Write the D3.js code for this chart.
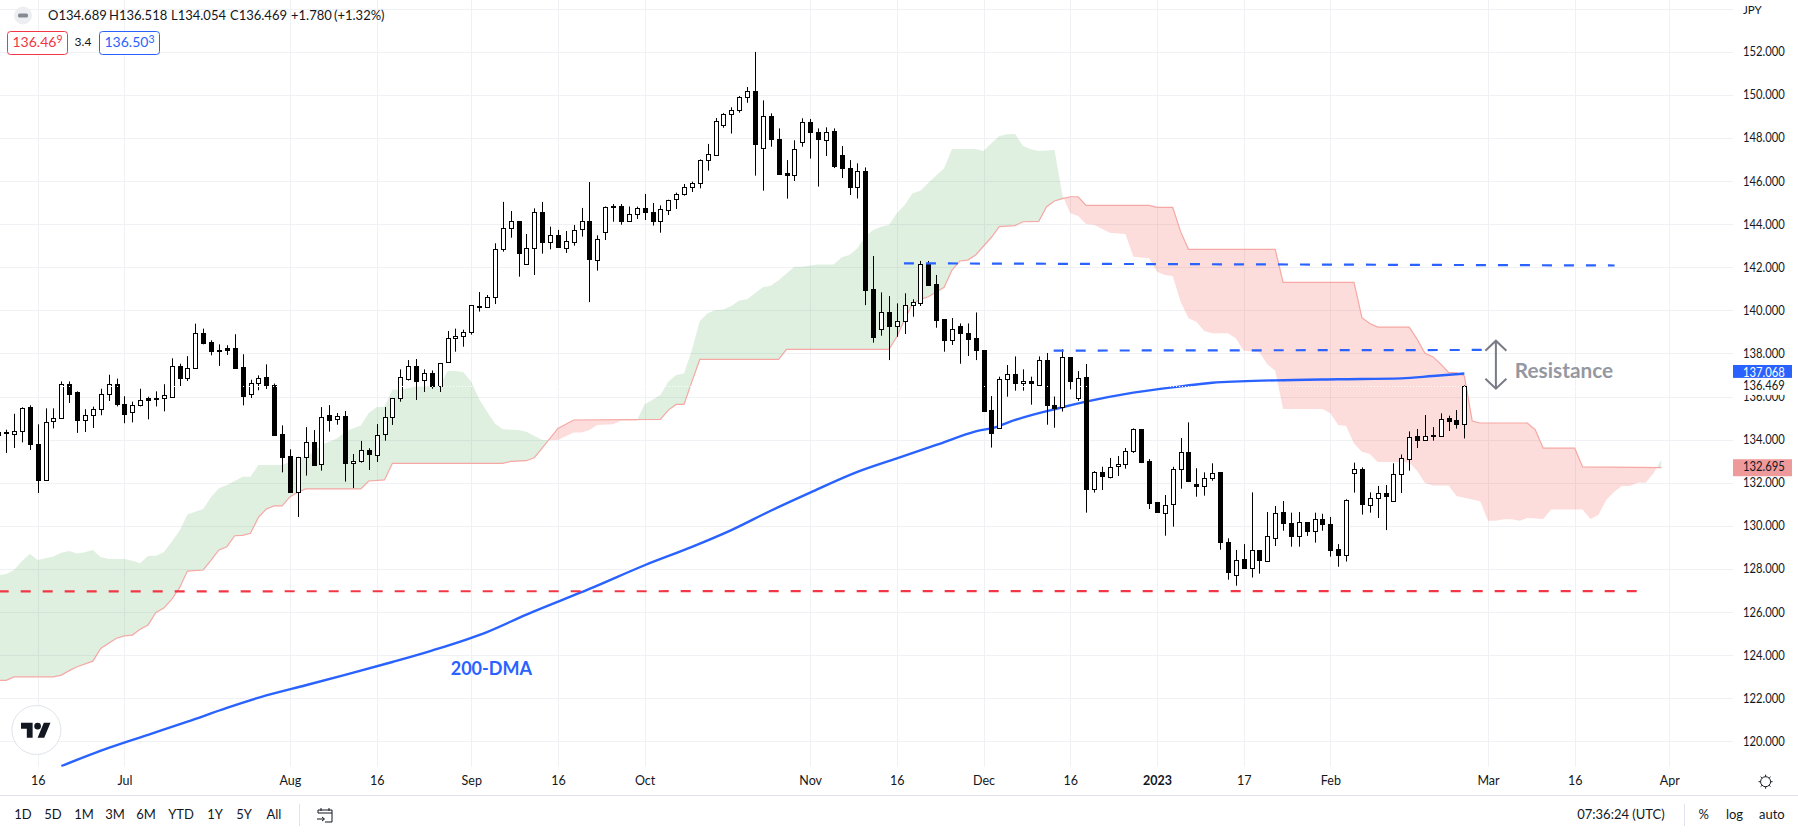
<!DOCTYPE html>
<html>
<head>
<meta charset="utf-8">
<style>
  html, body { margin: 0; background: #fff; overflow: hidden; }
  text { font-family: Lato, "Open Sans", sans-serif; fill: #131722; }
</style>
</head>
<body>
<svg id="chart" width="1798" height="834"></svg>
<script src="https://cdn.jsdelivr.net/npm/d3@7"></script>
<script>
// bars are counted in trading days from 1 Jul 2022 (bar 0), first visible bar is -16
const firstBar = -16;
const opens = [
  134.34,134.37,134.26,134.4,135.5,133.81,132.13,134.86,135.0,136.6,
  136.2,134.91,135.14,135.42,136.12,136.6,135.67,135.28,135.61,135.92,
  135.95,135.93,135.99,137.43,136.87,137.34,138.96,138.51,138.17,138.24,
  138.24,137.35,136.13,136.63,136.89,136.55,134.25,133.22,131.57,133.18,
  133.87,132.84,135.14,134.93,135.08,132.89,132.98,133.5,133.32,134.24,
  135.03,135.92,136.84,137.43,136.75,137.07,136.49,137.59,138.7,138.79,
  138.96,140.2,140.14,140.6,142.83,143.79,144.13,142.13,142.87,144.55,
  143.14,143.48,142.87,143.2,143.74,144.13,142.35,143.62,144.84,144.82,
  144.11,144.45,144.73,144.55,144.11,144.68,145.15,145.38,145.71,145.89,
  146.96,147.2,148.57,149.09,149.28,149.88,150.16,147.52,149.0,147.95,
  146.36,146.25,147.78,148.72,148.26,147.92,148.3,147.19,146.59,145.69,
  146.47,140.99,139.1,139.9,139.24,139.47,140.22,140.31,142.15,141.22,
  139.58,138.65,139.25,138.95,138.7,138.14,135.37,134.52,136.79,137.03,
  136.6,136.7,136.5,137.68,135.59,135.48,137.82,135.95,136.89,131.69,
  132.48,132.29,132.74,132.85,133.44,134.48,133.0,131.09,130.61,131.0,
  132.62,133.41,131.94,131.88,132.25,132.48,129.23,127.75,128.44,128.01,
  128.86,128.38,129.46,130.62,130.11,129.49,130.16,129.73,130.3,130.07,
  128.91,128.61,132.42,132.62,131.0,131.32,131.54,131.12,132.39,133.13,
  134.15,133.97,134.17,134.18,135.0,134.89,134.689
];
const highs = [
  134.5,134.46,135.2,135.5,135.59,134.71,135.45,135.45,136.7,136.7,
  136.24,135.41,135.53,136.36,137.01,136.83,136.01,135.76,136.36,135.99,
  136.24,136.57,137.77,137.52,137.87,139.38,139.15,138.61,138.42,138.38,
  138.89,137.96,136.78,136.98,137.49,136.6,134.66,133.55,133.2,134.58,
  134.44,135.51,135.6,135.23,135.33,133.33,133.94,133.6,134.72,135.51,
  135.92,137.26,137.69,137.74,137.26,137.21,137.54,139.04,139.15,139.1,
  140.23,140.85,140.71,143.11,145.03,144.61,144.13,143.54,144.73,145.03,
  143.88,143.73,143.68,143.96,144.75,145.95,143.48,144.82,144.93,144.93,
  144.82,144.81,145.4,144.98,144.87,145.13,145.46,145.86,145.97,147.0,
  147.72,148.92,149.15,149.42,149.94,150.36,151.99,149.74,149.14,148.44,
  146.97,147.89,148.91,148.88,148.44,148.49,148.44,147.62,146.97,146.82,
  146.63,142.52,140.83,140.66,140.32,140.79,140.51,142.29,142.29,141.64,
  139.58,139.64,139.39,139.39,139.9,138.14,136.02,136.92,137.46,137.86,
  137.26,136.92,137.86,138.02,136.0,138.19,137.82,137.18,137.51,132.54,
  132.74,133.15,133.24,133.61,134.52,134.48,133.1,131.09,131.43,132.74,
  134.07,134.8,132.67,132.48,132.9,132.48,129.42,128.88,129.15,131.55,
  128.86,130.64,130.92,131.15,130.61,130.64,130.16,130.61,130.56,130.41,
  129.15,131.23,132.93,132.71,131.55,131.85,131.89,132.9,133.31,134.38,
  134.49,135.14,134.58,135.22,135.11,135.37,136.518
];
const lows = [
  134.1,133.38,133.61,133.87,133.52,131.52,132.12,134.52,134.96,135.7,
  134.31,134.35,134.54,135.13,135.79,135.54,134.76,134.8,135.54,134.94,
  135.54,135.31,135.99,136.47,136.72,137.34,138.42,137.91,137.42,137.93,
  137.32,135.59,135.93,136.29,136.35,134.21,132.48,131.57,130.41,132.33,
  132.79,132.56,134.37,134.69,132.05,131.75,132.93,132.59,132.96,133.95,
  134.68,135.76,136.74,135.84,136.21,136.36,136.21,137.59,138.08,138.31,
  138.87,139.94,140.14,140.29,142.72,143.37,141.56,142.13,141.64,142.63,
  142.83,142.9,142.66,143.0,143.42,140.38,141.84,143.26,144.11,143.97,
  144.11,144.24,144.19,143.93,143.6,144.42,144.7,145.32,145.49,145.66,
  146.48,147.16,148.47,148.2,149.17,149.63,146.25,145.55,147.59,146.28,
  145.18,146.0,147.59,147.04,145.74,147.16,146.6,146.14,145.35,145.19,
  140.24,138.5,138.82,137.69,138.77,138.9,139.7,140.2,141.14,139.19,
  138.08,138.39,137.52,137.88,137.69,135.33,133.63,134.5,135.99,136.27,
  136.27,135.62,136.5,134.69,134.55,135.3,136.33,135.8,130.61,131.54,
  131.66,132.2,132.31,132.65,133.38,132.91,130.78,130.61,129.54,129.96,
  131.72,132.03,131.35,131.4,132.09,128.89,127.5,127.22,128.01,127.6,
  127.78,128.38,129.06,129.77,129.03,129.03,129.53,129.22,129.77,128.57,
  128.1,128.34,131.54,130.52,130.61,130.36,129.8,131.12,131.52,132.56,
  133.61,133.97,133.95,134.18,134.4,134.51,134.054
];
const closes = [
  134.21,134.31,134.42,135.48,133.8,132.13,134.83,135.02,136.6,136.15,
  134.91,135.16,135.44,136.13,136.6,135.65,135.19,135.62,135.85,135.85,
  135.89,136.05,137.43,136.86,137.34,138.96,138.48,138.1,138.11,138.17,
  137.32,136.01,136.63,136.87,136.52,134.21,133.19,131.57,133.18,133.87,
  132.82,135.03,134.93,135.08,132.89,132.99,133.5,133.3,134.23,135.03,
  135.92,136.89,137.43,136.74,137.07,136.47,137.54,138.7,138.79,138.98,
  140.23,140.17,140.6,142.83,143.8,144.13,142.63,142.87,144.55,143.14,
  143.48,142.9,143.2,143.74,144.13,142.35,143.32,144.78,144.78,144.11,
  144.45,144.73,144.53,144.11,144.68,145.13,145.38,145.71,145.89,146.97,
  147.24,148.77,149.09,149.28,149.88,150.16,147.69,149.0,147.92,146.32,
  146.25,147.47,148.72,148.24,147.92,148.29,146.66,146.57,145.69,146.45,
  140.96,138.77,139.9,139.24,139.49,140.23,140.37,142.13,141.17,139.56,
  138.62,139.15,138.91,138.68,138.12,135.33,134.3,136.81,137.03,136.6,
  136.7,136.6,137.68,135.57,135.47,137.82,136.69,136.87,131.68,132.48,
  132.28,132.74,132.85,133.45,134.48,132.96,131.07,130.61,130.98,132.62,
  133.41,132.08,131.86,132.23,132.47,129.21,127.82,128.43,128.01,128.86,
  128.38,129.54,130.61,130.1,129.49,130.16,129.73,130.3,130.05,128.88,
  128.61,131.18,132.62,130.98,131.31,131.54,131.4,132.39,133.13,134.14,
  133.95,134.15,134.2,134.97,134.88,134.69,136.469
];

// 200-day moving average
const maBars = [-8,-2,3,8,13,18,23,28,34,39,46,51,58,59,66,72,77,82,87,93,98,103,108,111,112,119,122,128,134,138,146,154,162,166,170];
const maValues = [118.85,119.69,120.3,120.91,121.55,122.13,122.6,123.08,123.68,124.21,125.07,125.88,126.92,127.07,128.17,129.02,129.8,130.7,131.54,132.5,133.13,133.75,134.38,134.63,134.78,135.5,135.76,136.18,136.47,136.64,136.75,136.8,136.84,136.95,137.068];

// cloud: the edge with the pink line
const spanBBars = [-16,-15,-14,-9,-8,-7,-6,-4,-3,-2,-1,0,1,2,3,4,5,6,7,8,10,11,12,13,14,15,16,17,18,19,20,21,22,23,30,31,33,34,48,49,51,52,53,55,57,68,69,70,71,72,73,83,84,97,98,99,100,101,102,104,105,106,107,108,110,111,113,114,116,117,118,119,120,121,122,130,131,133,134,135,146,147,156,157,158,159,163,164,165,166,167,168,169,170,171,172,178,179,180,184,185,195];
const spanBValues = [122.83,122.83,122.99,122.99,123.07,123.28,123.46,123.72,124.31,124.55,124.78,124.89,124.93,125.2,125.4,125.98,126.18,126.59,127.13,127.9,127.95,128.41,128.88,129.03,129.54,129.56,129.65,130.39,130.78,130.92,130.92,131.34,131.57,131.71,131.71,132.08,132.13,132.9,132.9,132.99,133.02,133.16,133.6,134.52,134.91,134.94,135.37,135.63,135.63,136.69,137.72,137.72,138.19,138.19,138.77,139.58,140.32,140.51,140.63,141.07,141.87,142.29,142.33,142.57,143.39,143.88,143.93,144.11,144.13,144.81,145.07,145.18,145.27,145.27,144.87,144.87,144.78,144.78,143.65,142.83,142.83,141.3,141.3,139.66,139.39,139.22,139.22,138.66,138.01,137.85,137.5,137.12,137.1,136.95,134.86,134.77,134.77,134.45,133.6,133.6,132.73,132.7];
// cloud: the other edge, no line is drawn on it
const spanABars = [-16,-15,-14,-13,-12,-11,-9,-8,-7,-6,-5,-4,-3,-2,0,1,2,3,4,5,6,7,8,10,11,12,13,14,15,16,17,20,22,23,24,25,26,27,28,29,30,31,32,33,34,35,37,40,41,42,43,44,45,46,47,48,50,51,53,55,57,58,59,60,62,63,65,66,68,69,70,71,72,73,74,75,76,77,78,79,80,81,82,83,84,85,86,88,90,91,92,93,94,95,96,97,98,99,100,101,102,103,104,105,108,109,110,111,112,113,114,115,116,118,119,120,121,122,123,125,127,128,130,131,132,133,134,135,136,137,138,140,141,142,144,145,146,147,152,153,154,155,156,157,158,159,162,163,164,165,166,168,169,172,173,174,175,176,177,178,180,181,185,186,187,188,189,190,191,192,193,194,195];
const spanAValues = [127.7,127.76,127.95,128.37,128.69,128.41,128.57,128.75,128.83,128.72,128.77,128.88,128.54,128.46,128.46,128.38,128.26,128.6,128.61,128.77,129.26,129.77,130.52,130.78,131.34,131.74,131.89,132.08,132.28,132.28,132.82,132.82,133.13,133.2,133.44,133.75,133.9,134.06,134.37,134.52,134.65,135.23,135.5,135.53,136.33,136.3,136.46,136.49,137.18,137.18,137.12,136.69,135.88,135.3,134.75,134.48,134.45,134.37,133.98,133.98,134.33,134.33,134.45,134.68,134.71,134.88,134.88,135.63,136.07,136.69,137.0,137.07,138.16,139.5,139.86,140.01,140.04,140.2,140.45,140.51,140.79,141.07,141.14,141.4,141.71,142.02,142.02,142.12,142.12,142.46,142.57,142.88,143.42,143.73,143.88,143.96,144.5,144.89,145.43,145.55,145.92,146.25,146.59,147.48,147.48,147.39,147.75,148.09,148.17,148.18,147.62,147.47,147.39,147.44,145.35,144.5,144.38,144.0,143.97,143.6,143.54,142.49,142.42,141.79,141.64,141.59,140.4,139.63,139.47,139.04,138.93,138.93,138.7,138.12,138.05,137.5,137.2,135.42,135.42,135.22,134.68,134.63,133.82,133.44,133.33,132.96,132.96,132.94,132.55,131.99,131.87,131.87,131.38,131.14,130.24,130.24,130.3,130.3,130.24,130.36,130.32,130.76,130.76,130.32,130.5,131.2,131.58,131.85,131.85,132.0,132.0,132.44,133.08];

// drawn trend lines: [start bar, start price, end bar, end price]
const supportLine = [-15.95, 126.96, 191.9, 126.97];
const resistanceLines = [[98.9, 142.18, 189.06, 142.08], [117.9, 138.13, 172.2, 138.16]];

const priceTicks = [120,122,124,126,128,130,132,134,136,138,140,142,144,146,148,150,152];
const gridOnlyPrice = 154;
const timeBars = [-11,0,21,32,44,55,66,87,98,109,120,131,142,153,173,184,196];
const timeLabels = ['16','Jul','Aug','16','Sep','16','Oct','Nov','16','Dec','16','2023','17','Feb','Mar','16','Apr'];
const rangeLabels = ['1D','5D','1M','3M','6M','YTD','1Y','5Y','All'];
const rangeCenters = [23,53,84,115,146,181,215,244,274];
const quoteParts = ['O134.689','H136.518','L134.054','C136.469','+1.780','(+1.32%)'];
const quoteStarts = [48,109,171,230,291,334];

const lastClose = 136.469;
const lastMa = 137.068;
const lastSpan = 132.695;

const plotRight = 1733;
const plotBottom = 766.7;
const priceLabelWidth = 41.7;

const x = d3.scaleLinear().domain([0, 196]).range([124.4, 1669.3]);
const y = d3.scaleLinear().domain([120, 152]).range([741.3, 51.7]);

const svg = d3.select('#chart');

const defs = svg.append('defs');
defs.append('clipPath').attr('id', 'plot').append('rect')
    .attr('width', plotRight).attr('height', plotBottom);

// grid
const grid = svg.append('g').attr('stroke', '#f0f1f4').attr('stroke-width', 1);
grid.selectAll('.h').data(priceTicks.concat(gridOnlyPrice)).enter().append('line')
    .attr('x1', 0).attr('x2', plotRight)
    .attr('y1', d => Math.round(y(d)) + 0.5).attr('y2', d => Math.round(y(d)) + 0.5);
grid.selectAll('.v').data(timeBars).enter().append('line')
    .attr('y1', 0).attr('y2', plotBottom)
    .attr('x1', d => Math.round(x(d)) + 0.5).attr('x2', d => Math.round(x(d)) + 0.5);

const plot = svg.append('g').attr('clip-path', 'url(#plot)');

// cloud, each fill is cut by the other edge so colours swap at the crossings
const spanB = spanBBars.map((b, i) => ({bar: b, value: spanBValues[i]}));
const spanA = spanABars.map((b, i) => ({bar: b, value: spanAValues[i]}));
const below = d3.area().x(d => x(d.bar)).y0(plotBottom).y1(d => y(d.value));
const above = d3.area().x(d => x(d.bar)).y0(0).y1(d => y(d.value));
defs.append('clipPath').attr('id', 'aboveB').append('path').attr('d', above(spanB));
defs.append('clipPath').attr('id', 'aboveA').append('path').attr('d', above(spanA));
plot.append('path').attr('d', below(spanA)).attr('clip-path', 'url(#aboveB)')
    .attr('fill', 'rgba(67,160,71,0.17)');
plot.append('path').attr('d', below(spanB)).attr('clip-path', 'url(#aboveA)')
    .attr('fill', 'rgba(244,67,54,0.18)');
plot.append('path').attr('d', d3.line().x(d => x(d.bar)).y(d => y(d.value))(spanB))
    .attr('fill', 'none').attr('stroke', '#f5a8a4').attr('stroke-width', 1.2);

// 200-DMA
const ma = maBars.map((b, i) => ({bar: b, value: maValues[i]}));
plot.append('path')
    .attr('d', d3.line().curve(d3.curveMonotoneX).x(d => x(d.bar)).y(d => y(d.value))(ma))
    .attr('fill', 'none').attr('stroke', '#2962ff').attr('stroke-width', 2.4);

// candles
const candles = opens.map((o, i) => ({bar: firstBar + i, o: o, h: highs[i], l: lows[i], c: closes[i]}));
const px = d => Math.round(x(d.bar)) + 0.5;
const candle = plot.selectAll('.candle').data(candles).enter().append('g');
candle.append('line')
    .attr('x1', px).attr('x2', px)
    .attr('y1', d => y(d.h)).attr('y2', d => y(d.l))
    .attr('stroke', '#000').attr('stroke-width', 1);
candle.append('rect')
    .attr('x', d => px(d) - 2).attr('width', 4)
    .attr('y', d => Math.round(y(Math.max(d.o, d.c))) + 0.5)
    .attr('height', d => Math.max(1, Math.round(Math.abs(y(d.o) - y(d.c)))))
    .attr('fill', d => d.c >= d.o ? '#fff' : '#000')
    .attr('stroke', '#000').attr('stroke-width', 1);

// dotted close price line
plot.append('line')
    .attr('x1', 0).attr('x2', plotRight)
    .attr('y1', Math.round(y(lastClose)) + 0.5).attr('y2', Math.round(y(lastClose)) + 0.5)
    .attr('stroke', '#fff').attr('stroke-width', 1).attr('stroke-dasharray', '1 2');

// drawn levels
function level(g, l, color) {
  g.append('line')
    .attr('x1', x(l[0])).attr('y1', y(l[1]))
    .attr('x2', x(l[2])).attr('y2', y(l[3]))
    .attr('stroke', color).attr('stroke-width', 2.2).attr('stroke-dasharray', '10 12');
}
level(plot, supportLine, '#f23645');
resistanceLines.forEach(l => level(plot, l, '#2962ff'));

// resistance arrow
const arrowBar = 174;
const arrowTop = 138.59;
const arrowBottom = 136.36;
const ax = x(arrowBar);
const arrowPath = d3.path();
arrowPath.moveTo(ax, y(arrowTop)); arrowPath.lineTo(ax, y(arrowBottom));
arrowPath.moveTo(ax - 10.5, y(arrowTop) + 10); arrowPath.lineTo(ax, y(arrowTop)); arrowPath.lineTo(ax + 10.5, y(arrowTop) + 10);
arrowPath.moveTo(ax - 10.5, y(arrowBottom) - 10); arrowPath.lineTo(ax, y(arrowBottom)); arrowPath.lineTo(ax + 10.5, y(arrowBottom) - 10);
plot.append('path').attr('d', arrowPath.toString())
    .attr('fill', 'none').attr('stroke', '#787b86').attr('stroke-width', 2);

plot.append('text').attr('x', x(176.4)).attr('y', y(137.11))
    .attr('dominant-baseline', 'middle')
    .style('font-size', '20.8px').style('font-weight', 700).style('fill', '#9598a1')
    .text('Resistance');
plot.append('text').attr('x', x(41.4)).attr('y', y(123.27))
    .attr('dominant-baseline', 'middle')
    .style('font-size', '18px').style('font-weight', 700).style('fill', '#2962ff')
    .text('200-DMA');

// price axis
const yAxis = d3.axisRight(y).tickValues(priceTicks).tickFormat(d3.format('.3f')).tickSize(0).tickPadding(0);
const yG = svg.append('g').attr('transform', 'translate(1743,0)').call(yAxis);
yG.select('.domain').remove();
yG.selectAll('text').attr('x', 0).style('font-size', '12.5px')
    .attr('textLength', priceLabelWidth).attr('lengthAdjust', 'spacingAndGlyphs');

svg.append('text').attr('x', 1743).attr('y', 11).attr('dominant-baseline', 'middle')
    .style('font-size', '11.5px').text('JPY');

function priceLabel(value, fill, color) {
  const ly = y(value);
  svg.append('rect').attr('x', plotRight).attr('y', ly - 8.5).attr('width', 59).attr('height', 17).attr('fill', fill);
  svg.append('text').attr('x', 1743).attr('y', ly).attr('dominant-baseline', 'middle')
    .attr('textLength', priceLabelWidth).attr('lengthAdjust', 'spacingAndGlyphs')
    .style('font-size', '12.5px').style('fill', color).text(d3.format('.3f')(value));
}
priceLabel(lastMa, '#2962ff', '#fff');
priceLabel(lastClose, '#fff', '#131722');
priceLabel(lastSpan, '#ef9a9a', '#131722');

// time axis
const xAxis = d3.axisBottom(x).tickValues(timeBars).tickFormat((d, i) => timeLabels[i]).tickSize(0).tickPadding(0);
const xG = svg.append('g').attr('transform', 'translate(0,781)').call(xAxis);
xG.select('.domain').remove();
xG.selectAll('text').attr('y', 0).attr('dy', '0.35em').style('font-size', '12.5px')
    .style('font-weight', d => d === 131 ? 700 : 400);

// settings icon next to the time axis
const icon = svg.append('g').attr('transform', 'translate(1765.6,781.7)').attr('stroke', '#131722').attr('fill', 'none');
icon.append('circle').attr('r', 5);
d3.range(8).forEach(k => {
  const a = k * Math.PI / 4;
  icon.append('line').attr('x1', 5 * Math.cos(a)).attr('y1', 5 * Math.sin(a))
      .attr('x2', 7 * Math.cos(a)).attr('y2', 7 * Math.sin(a));
});

// bottom bar
svg.append('line').attr('x1', 0).attr('x2', 1798).attr('y1', 795.5).attr('y2', 795.5).attr('stroke', '#e0e3eb');
svg.selectAll('.range').data(rangeLabels).enter().append('text')
    .attr('x', (d, i) => rangeCenters[i]).attr('y', 815.5)
    .attr('text-anchor', 'middle').attr('dominant-baseline', 'middle')
    .style('font-size', '13px').text(d => d);
svg.append('line').attr('x1', 299.5).attr('x2', 299.5).attr('y1', 804).attr('y2', 826).attr('stroke', '#e0e3eb');
svg.append('path').attr('transform', 'translate(317,808)').attr('fill', 'none').attr('stroke', '#131722')
    .attr('d', 'M1 5V2H15V14H8M1 5H15M4 0V3M12 0V3M0 11H7M5 9L7.5 11L5 13');
svg.append('text').attr('x', 1621).attr('y', 815.5).attr('text-anchor', 'middle').attr('dominant-baseline', 'middle')
    .style('font-size', '13px').text('07:36:24 (UTC)');
svg.append('line').attr('x1', 1684.5).attr('x2', 1684.5).attr('y1', 804).attr('y2', 826).attr('stroke', '#e0e3eb');
[['%', 1703.7], ['log', 1734.5], ['auto', 1771.9]].forEach(t => {
  svg.append('text').attr('x', t[1]).attr('y', 815.5).attr('text-anchor', 'middle').attr('dominant-baseline', 'middle')
    .style('font-size', '13px').text(t[0]);
});

// header
svg.append('circle').attr('cx', 23).attr('cy', 15.5).attr('r', 9).attr('fill', '#eceef2');
svg.append('rect').attr('x', 18).attr('y', 13.5).attr('width', 10).attr('height', 4).attr('rx', 1.5).attr('fill', '#868993');
svg.selectAll('.quote').data(quoteParts).enter().append('text')
    .attr('x', (d, i) => quoteStarts[i]).attr('y', 16.5).attr('dominant-baseline', 'middle')
    .style('font-size', '13px').text(d => d);

function quoteBox(bx, main, tail, color) {
  svg.append('rect').attr('x', bx + 0.5).attr('y', 31.5).attr('width', 60).attr('height', 23).attr('rx', 3)
    .attr('fill', '#fff').attr('stroke', color);
  const t = svg.append('text').attr('x', bx + 30.5).attr('y', 43).attr('text-anchor', 'middle').attr('dominant-baseline', 'middle')
    .style('font-size', '14px').style('fill', color);
  t.append('tspan').text(main);
  t.append('tspan').attr('dy', -3).style('font-size', '10.5px').style('fill', color).text(tail);
}
quoteBox(7, '136.46', '9', '#f23645');
quoteBox(99, '136.50', '3', '#2962ff');
svg.append('text').attr('x', 83).attr('y', 43).attr('text-anchor', 'middle').attr('dominant-baseline', 'middle')
    .style('font-size', '12px').text('3.4');

// logo
svg.append('ellipse').attr('cx', 36.4).attr('cy', 730).attr('rx', 24.5).attr('ry', 24.5)
    .attr('fill', '#fff').attr('stroke', '#e0e3eb');
const logo = svg.append('g').attr('transform', 'translate(21,719.5) scale(0.83)').attr('fill', '#131722');
logo.append('path').attr('d', 'M14 22H7V11H0V4h14v18ZM28 22h-8l7.5-18h8L28 22Z');
logo.append('circle').attr('cx', 20).attr('cy', 8).attr('r', 4);
</script>
</body>
</html>
